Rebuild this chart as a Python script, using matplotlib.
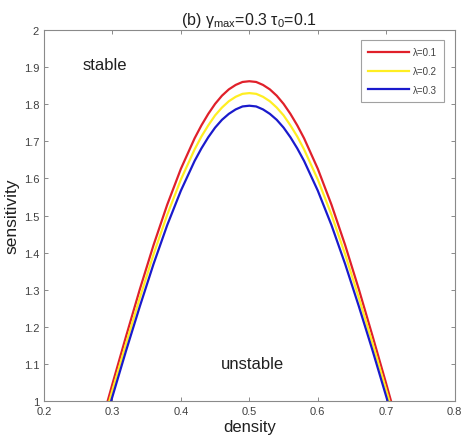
import matplotlib
matplotlib.use("Agg")
import matplotlib.pyplot as plt

plt.rcParams['font.family'] = ['Liberation Sans', 'DejaVu Sans']
plt.rcParams['mathtext.fontset'] = 'custom'
plt.rcParams['mathtext.rm'] = 'Liberation Sans'
plt.rcParams['mathtext.it'] = 'Liberation Sans'

density = [0.29, 0.30, 0.32, 0.34, 0.36, 0.38, 0.40, 0.42, 0.43, 0.44, 0.45, 0.46, 0.47, 0.48, 0.49, 0.50,
           0.51, 0.52, 0.53, 0.54, 0.55, 0.56, 0.57, 0.58, 0.60, 0.62, 0.64, 0.66, 0.68, 0.70, 0.71]
sens_l01 = [0.980, 1.046, 1.175, 1.301, 1.420, 1.529, 1.626, 1.708, 1.743, 1.774, 1.801, 1.823, 1.840, 1.852, 1.860, 1.862,
            1.860, 1.852, 1.840, 1.823, 1.801, 1.774, 1.743, 1.708, 1.626, 1.529, 1.420, 1.301, 1.175, 1.046, 0.980]
sens_l02 = [0.965, 1.029, 1.155, 1.278, 1.395, 1.502, 1.597, 1.678, 1.713, 1.743, 1.770, 1.791, 1.808, 1.820, 1.828, 1.830,
            1.828, 1.820, 1.808, 1.791, 1.770, 1.743, 1.713, 1.678, 1.597, 1.502, 1.395, 1.278, 1.155, 1.029, 0.965]
sens_l03 = [0.950, 1.012, 1.136, 1.255, 1.369, 1.474, 1.567, 1.647, 1.681, 1.711, 1.737, 1.758, 1.774, 1.786, 1.794, 1.796,
            1.794, 1.786, 1.774, 1.758, 1.737, 1.711, 1.681, 1.647, 1.567, 1.474, 1.369, 1.255, 1.136, 1.012, 0.950]
labels = ['λ=0.1', 'λ=0.2', 'λ=0.3']
colors = ['#e0202a', '#ffee22', '#1a1acc']
xticks = [0.2, 0.3, 0.4, 0.5, 0.6, 0.7, 0.8]
yticks = [1, 1.1, 1.2, 1.3, 1.4, 1.5, 1.6, 1.7, 1.8, 1.9, 2]

fig = plt.figure(figsize=(4.62, 4.39), dpi=100)
ax = fig.add_axes([0.0952, 0.0843, 0.889, 0.845])

for ys, lab, c in zip([sens_l01, sens_l02, sens_l03], labels, colors):
    ax.plot(density, ys, color=c, lw=1.6, label=lab)

ax.set_xlim(0.2, 0.8)
ax.set_ylim(1, 2)
ax.set_xticks(xticks)
ax.set_xticklabels([f'{t:g}' for t in xticks])
ax.set_yticks(yticks)
ax.set_yticklabels([f'{t:g}' for t in yticks])

gray = '#8a8a8a'
txtc = '#404040'
for s in ax.spines.values():
    s.set_color(gray)
    s.set_linewidth(0.8)
ax.tick_params(direction='in', length=3, width=0.7, color=gray, labelcolor=txtc,
               labelsize=8, top=True, right=True)

ax.set_xlabel('density', fontsize=12, color='#202020', labelpad=2)
ax.set_ylabel('sensitivity', fontsize=12.5, color='#202020', labelpad=3)
ax.set_title('(b) γ$_{max}$=0.3 τ$_0$=0.1', fontsize=11.5, color='#202020', pad=4)

ax.text(0.257, 1.908, 'stable', fontsize=12, color='#202020', va='center', ha='left')
ax.text(0.458, 1.10, 'unstable', fontsize=12, color='#202020', va='center', ha='left')

leg = ax.legend(loc='upper right', bbox_to_anchor=(0.985, 0.985), fontsize=7,
                frameon=True, fancybox=False, handlelength=4.2, handletextpad=0.4,
                borderpad=0.7, labelspacing=0.9, edgecolor=gray)
leg.get_frame().set_linewidth(0.8)
for t in leg.get_texts():
    t.set_color(txtc)

fig.savefig('out.png', dpi=100)
